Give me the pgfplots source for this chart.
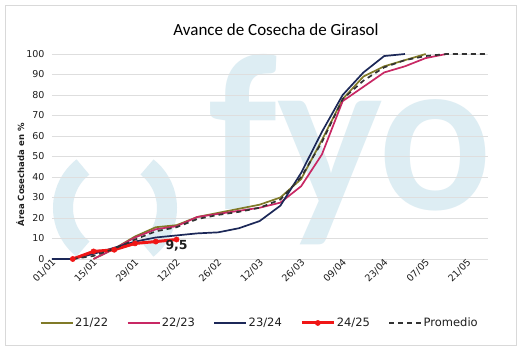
\documentclass[border=0pt]{standalone}
\usepackage{fontspec}
\setmainfont{DejaVu Sans}
\newfontfamily\titlefont{Carlito}
\newfontfamily\wmfont{Lato}
\usepackage{pgfplots}
\pgfplotsset{compat=1.18}
\definecolor{c2122}{RGB}{128,122,40}
\definecolor{c2223}{RGB}{200,40,100}
\definecolor{c2324}{RGB}{28,40,88}
\definecolor{c2425}{RGB}{240,22,22}
\definecolor{cprom}{RGB}{50,50,50}
\definecolor{wm}{RGB}{221,237,243}
\definecolor{gridgray}{RGB}{222,222,222}
\definecolor{bordergray}{RGB}{217,217,217}
\definecolor{ticktext}{RGB}{30,30,30}
\begin{document}
\begin{tikzpicture}
\path[use as bounding box] (-52pt,-93pt) rectangle (469pt,259pt);
\fill[white] (-52pt,-93pt) rectangle (469pt,259pt);
\draw[bordergray, line width=0.8pt] (-47pt,-86pt) rectangle (464pt,254pt);
% watermark logo
\draw[wm, line width=20pt] ([shift={(128:52pt)}]63pt,51pt) arc[start angle=128,end angle=232,radius=52pt];
\draw[wm, line width=20pt] ([shift={(-52:52pt)}]63pt,51pt) arc[start angle=-52,end angle=52,radius=52pt];
\node[text=wm, anchor=base west, inner sep=0pt, xscale=0.94, font=\wmfont\bfseries\fontsize{211}{211}\selectfont] at (154pt,49pt) {fyo};
\node[font=\titlefont\fontsize{17}{20}\selectfont, text=black] at (224pt,229pt) {Avance de Cosecha de Girasol};
\begin{axis}[
  scale only axis, width=436pt, height=205pt,
  xmin=0, xmax=147, ymin=0, ymax=100,
  axis line style={draw=none}, tick style={draw=none},
  ymajorgrids, major grid style={gridgray, line width=0.8pt},
  ytick={0,10,...,100},
  xtick={0,14,...,140},
  xticklabels={01/01,15/01,29/01,12/02,26/02,12/03,26/03,09/04,23/04,07/05,21/05},
  xticklabel style={rotate=45, anchor=east, text=ticktext, font=\fontsize{9.5}{10}\selectfont, inner sep=1pt, yshift=-3pt, xshift=1pt},
  yticklabel style={text=ticktext, font=\fontsize{9.5}{10}\selectfont, xshift=-4pt},
  /pgf/number format/assume math mode=true,
  ylabel={Área Cosechada en \%},
  ylabel style={font=\bfseries\fontsize{8.5}{10}\selectfont, at={(axis description cs:-0.073,0.41)}, anchor=center, text=ticktext},
  clip=false,
  legend columns=5,
  legend style={draw=none, fill=none, at={(axis description cs:0.476,-0.312)}, anchor=center,
    font=\fontsize{11.5}{13}\selectfont, text=ticktext,
    /tikz/every even column/.append style={column sep=17pt},
    nodes={inner sep=1.5pt}},
  legend image code/.code={\draw[mark repeat=2,mark phase=2,#1] plot coordinates {(0pt,0pt) (16pt,0pt) (32pt,0pt)};},
]
\addplot[c2122, line width=1.7pt] coordinates {
(14,0)(21,5)(28,11)(35,15.5)(42,16.5)(49,20.5)(56,22.5)(63,24.5)(70,26.5)(77,30)(84,39)(91,58)(98,78)(105,89)(112,94)(119,97)(126,100)};
\addlegendentry{21/22}
\addplot[c2223, line width=1.7pt] coordinates {
(14,0)(21,5)(28,10.5)(35,14.5)(42,16)(49,20.5)(56,22)(63,23.5)(70,25)(77,27.5)(84,35.5)(91,51)(98,77)(105,84)(112,91)(119,94)(126,98)(133,100)};
\addlegendentry{22/23}
\addplot[c2324, line width=1.7pt] coordinates {
(0,0)(7,0)(14,2.5)(21,5.5)(28,8.5)(35,10.5)(42,11.5)(49,12.5)(56,13)(63,15)(70,18.5)(77,26)(84,42)(91,62)(98,80)(105,91)(112,99)(119,100)};
\addlegendentry{23/24}
\addplot[c2425, line width=3pt, mark=*, mark size=2.6pt, mark options={fill=c2425, draw=c2425, line width=0.5pt}] coordinates {
(7,0)(14,3.7)(21,4.5)(28,7.6)(35,8.5)(42,9.5)};
\addlegendentry{24/25}
\addplot[cprom, line width=1.7pt, dash pattern=on 5pt off 4pt] coordinates {
(7,0)(14,1.5)(21,5)(28,9.5)(35,13.5)(42,15.5)(49,19.5)(56,21.5)(63,23)(70,25)(77,29)(84,40)(91,57)(98,78)(105,87)(112,93.5)(119,97)(126,99)(133,100)(140,100)(147,100)};
\addlegendentry{Promedio}
\node[anchor=north, inner sep=0.5pt, font=\bfseries\fontsize{12.5}{13}\selectfont, text=ticktext] at (axis cs:42,9.5) {9,5};
\end{axis}
\end{tikzpicture}
\end{document}
